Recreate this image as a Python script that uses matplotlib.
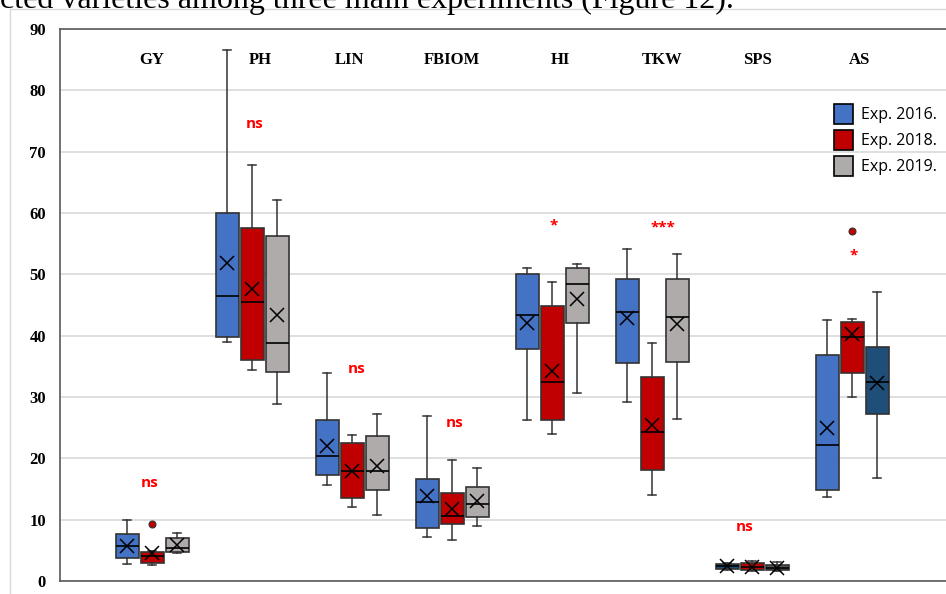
import numpy as np
import matplotlib
matplotlib.use('Agg')
import matplotlib.pyplot as plt
from matplotlib.patches import Patch
from matplotlib.lines import Line2D

traits = ['GY', 'PH', 'LIN', 'FBIOM', 'HI', 'TKW', 'SPS', 'AS']
series = ['Exp. 2016.', 'Exp. 2018.', 'Exp. 2019.']

# five-number summaries + mean per trait: [whislo, q1, med, q3, whishi, mean]
exp2016 = [
    [2.8, 3.75, 5.7, 7.7, 10.0, 5.7],
    [39.0, 39.8, 46.5, 60.0, 86.5, 51.9],
    [15.7, 17.3, 20.4, 26.3, 33.9, 22.0],
    [7.2, 8.6, 12.8, 16.7, 26.9, 13.9],
    [26.3, 37.8, 43.3, 50.1, 51.0, 42.1],
    [29.2, 35.5, 43.9, 49.3, 54.2, 42.9],
    [1.8, 2.0, 2.4, 2.8, 2.9, 2.4],
    [13.7, 14.8, 22.2, 36.9, 42.6, 24.9],
]
exp2018 = [
    [2.6, 2.9, 4.1, 4.7, 4.9, 4.5],
    [34.4, 36.0, 45.5, 57.6, 67.9, 47.6],
    [12.0, 13.5, 17.9, 22.5, 23.8, 18.0],
    [6.7, 9.3, 10.6, 14.3, 19.8, 11.7],
    [24.0, 26.3, 32.5, 44.9, 48.8, 34.3],
    [14.0, 18.1, 24.3, 33.3, 38.8, 25.4],
    [1.7, 1.8, 2.3, 2.9, 3.3, 2.3],
    [30.0, 33.9, 39.8, 42.3, 42.7, 40.3],
]
exp2019 = [
    [4.6, 4.7, 5.4, 7.0, 7.8, 5.8],
    [28.9, 34.0, 38.8, 56.2, 62.2, 43.4],
    [10.8, 14.9, 17.9, 23.7, 27.2, 18.8],
    [9.0, 10.4, 12.5, 15.3, 18.5, 13.0],
    [30.7, 42.1, 48.4, 51.0, 51.7, 46.0],
    [26.4, 35.7, 43.0, 49.3, 53.3, 41.9],
    [1.6, 1.8, 2.2, 2.6, 3.1, 2.2],
    [16.8, 27.2, 32.5, 38.2, 47.2, 32.3],
]
# outliers (series index, trait index, value)
outliers = [(1, 0, 9.3), (1, 7, 57.1)]

sig_labels = ['ns', 'ns', 'ns', 'ns', '*', '***', 'ns', '*']
sig_y = [16.0, 74.5, 34.6, 25.8, 57.9, 57.7, 8.8, 53.0]

BLUE, RED, GRAY = '#4472C4', '#C00000', '#AFABAB'
NAVY, DGRAY = '#1F4E79', '#595959'
colors = [[BLUE] * 8, [RED] * 8, [GRAY] * 8]
colors[0][6] = NAVY
colors[2][6] = DGRAY
colors[2][7] = NAVY

fig = plt.figure(figsize=(9.46, 5.94), dpi=100)
ax = fig.add_axes([60 / 946, 13 / 594, 886 / 946, 552 / 594])

# page border lines
fig.add_artist(Line2D([10 / 946, 10 / 946], [0, 1 - 9 / 594], color='#D9D9D9', lw=1))
fig.add_artist(Line2D([10 / 946, 1], [1 - 9 / 594, 1 - 9 / 594], color='#D9D9D9', lw=1))
# running text of the page above the chart, cut by the top edge
fig.text(0.0, 1.0 - 8 / 594, 'cted varieties among three main experiments (Figure 12).',
         family='Liberation Serif', fontsize=23, ha='left', va='baseline')

offsets = [-0.25, 0.0, 0.25]
for s, data in enumerate([exp2016, exp2018, exp2019]):
    for g, row in enumerate(data):
        lo, q1, med, q3, hi, mean = row
        fl = [v for (si, gi, v) in outliers if si == s and gi == g]
        st = dict(whislo=lo, q1=q1, med=med, q3=q3, whishi=hi, mean=mean, fliers=fl)
        ax.bxp([st], positions=[g + offsets[s]], widths=0.23, showmeans=True,
               patch_artist=True, capwidths=0.08,
               boxprops=dict(facecolor=colors[s][g], edgecolor='#333333', lw=1.2),
               medianprops=dict(color='black', lw=1.2),
               whiskerprops=dict(color='#333333', lw=1.1),
               capprops=dict(color='#333333', lw=1.1),
               meanprops=dict(marker='x', markeredgecolor='black', markersize=10, mew=1.1),
               flierprops=dict(marker='o', markerfacecolor=RED, markeredgecolor='#333333',
                               markersize=5, mew=0.8))

for g, t in enumerate(traits):
    ax.text(g + [0, 0.08, -0.02, 0.0, 0.08, 0.1, 0.06, 0.08][g], 85, t,
            family='Liberation Serif', fontweight='bold', fontsize=12,
            ha='center', va='center')
    ax.text(g + [-0.02, 0.03, 0.05, 0.03, 0.02, 0.11, -0.07, 0.02][g], sig_y[g], sig_labels[g],
            color='#FF0000', fontweight='bold', fontsize=11, family='Open Sans',
            ha='center', va='center')

ax.set_xlim(-0.92, 7.94)
ax.set_ylim(0, 90)
ax.set_yticks(np.arange(0, 91, 10))
ax.set_yticklabels([str(v) for v in range(0, 91, 10)], family='Liberation Serif',
                   fontweight='bold', fontsize=12)
ax.tick_params(axis='y', length=0, pad=10)
ax.set_xticks([])
ax.grid(axis='y', color='#D9D9D9', lw=1.2)
ax.set_axisbelow(True)
for sp in ['left', 'bottom', 'top']:
    ax.spines[sp].set_color('#595959')
    ax.spines[sp].set_linewidth(1.2)
ax.spines['right'].set_visible(False)

handles = [Patch(facecolor=c, edgecolor='black', lw=1.2) for c in [BLUE, RED, GRAY]]
ax.legend(handles, series, loc='upper left', bbox_to_anchor=(0.857, 0.89),
          frameon=False, handlelength=1.2, handleheight=1.5, handletextpad=0.5,
          labelspacing=0.42, prop=dict(family='Open Sans', size=11.5))

fig.savefig('out.png', dpi=100)
